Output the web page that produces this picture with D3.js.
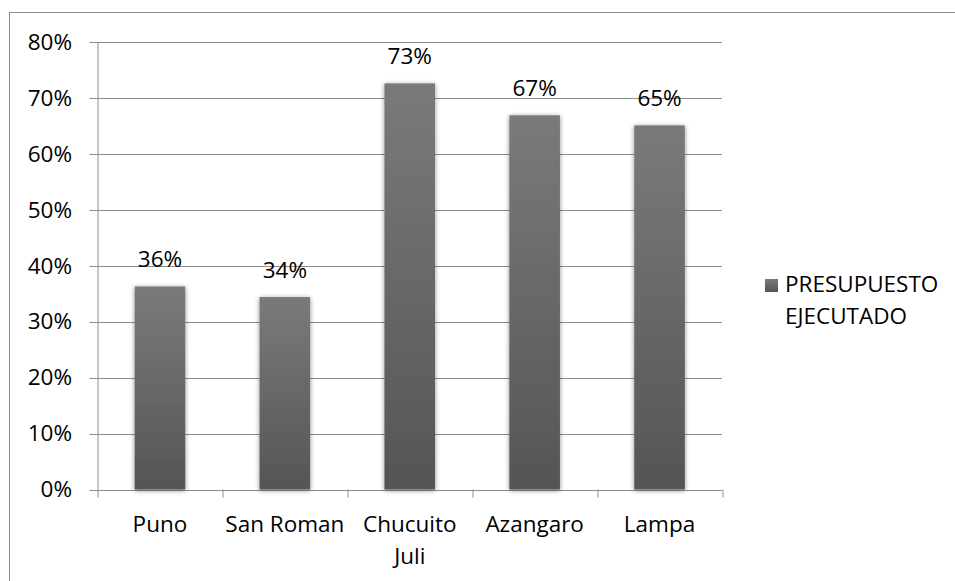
<!DOCTYPE html>
<html>
<head>
<meta charset="utf-8">
<script src="https://cdn.jsdelivr.net/npm/d3@7"></script>
<style>
  body { margin: 0; background: #fff; }
  text { font-family: "Open Sans", Lato, sans-serif; fill: #000; }
</style>
</head>
<body>
<div id="container"></div>
<script>
const categories = [['Puno'], ['San Roman'], ['Chucuito', 'Juli'], ['Azangaro'], ['Lampa']];
const values = [0.363, 0.344, 0.726, 0.669, 0.651];
const valueLabels = ['36%', '34%', '73%', '67%', '65%'];
const yTicks = [0, 0.1, 0.2, 0.3, 0.4, 0.5, 0.6, 0.7, 0.8];
const seriesName = ['PRESUPUESTO', 'EJECUTADO'];

const W = 955, H = 581;
const margin = { top: 42, left: 97.5, right: 233, bottom: 91.5 };
const width = W - margin.left - margin.right;
const height = H - margin.top - margin.bottom;
const fontSize = '22.5px';

const svg = d3.select('#container').append('svg')
  .attr('width', W)
  .attr('height', H);

const defs = svg.append('defs');
const grad = defs.append('linearGradient')
  .attr('id', 'barGrad')
  .attr('x1', 0).attr('y1', 0).attr('x2', 0).attr('y2', 1);
grad.append('stop').attr('offset', '0%').attr('stop-color', '#7a7a7a');
grad.append('stop').attr('offset', '100%').attr('stop-color', '#555555');

const shadow = defs.append('filter').attr('id', 'shadow')
  .attr('x', '-30%').attr('y', '-10%').attr('width', '160%').attr('height', '120%');
shadow.append('feGaussianBlur').attr('in', 'SourceAlpha').attr('stdDeviation', 2.5).attr('result', 'blur');
shadow.append('feOffset').attr('in', 'blur').attr('dx', 0).attr('dy', 1).attr('result', 'off');
shadow.append('feComponentTransfer').attr('in', 'off').attr('result', 'soft')
  .append('feFuncA').attr('type', 'linear').attr('slope', 0.45);
const merge = shadow.append('feMerge');
merge.append('feMergeNode').attr('in', 'soft');
merge.append('feMergeNode').attr('in', 'SourceGraphic');

// outer frame
svg.append('rect')
  .attr('x', 9.5).attr('y', 12.5)
  .attr('width', 960).attr('height', 600)
  .attr('fill', 'none')
  .attr('stroke', '#8c8c8c')
  .attr('stroke-width', 1);

const g = svg.append('g')
  .attr('transform', `translate(${margin.left}, ${margin.top})`);

const x = d3.scaleBand()
  .domain(d3.range(categories.length))
  .range([0, width])
  .paddingInner(0)
  .paddingOuter(0);

const y = d3.scaleLinear()
  .domain([0, 0.8])
  .range([height, 0]);

// gridlines + left ticks
g.append('g').selectAll('line')
  .data(yTicks).enter()
  .append('line')
  .attr('x1', -8)
  .attr('x2', width)
  .attr('y1', (d) => Math.round(y(d)) + 0.5)
  .attr('y2', (d) => Math.round(y(d)) + 0.5)
  .attr('stroke', '#8c8c8c')
  .attr('stroke-width', 1);

// y axis labels
g.append('g').selectAll('text')
  .data(yTicks).enter()
  .append('text')
  .attr('x', -25.5)
  .attr('y', (d) => y(d) + 7.8)
  .attr('text-anchor', 'end')
  .style('font-size', fontSize)
  .text((d) => d3.format('.0%')(d));

// y axis line
g.append('line')
  .attr('x1', 0.5).attr('x2', 0.5)
  .attr('y1', 0).attr('y2', height)
  .attr('stroke', '#8c8c8c');

// bottom ticks at band edges
const edges = d3.range(categories.length).map((i) => x(i)).concat([width]);
g.append('g').selectAll('line')
  .data(edges).enter()
  .append('line')
  .attr('x1', (d) => Math.round(d) + 0.5)
  .attr('x2', (d) => Math.round(d) + 0.5)
  .attr('y1', height)
  .attr('y2', height + 8)
  .attr('stroke', '#8c8c8c');

// bars
const barW = x.bandwidth() * 0.405;
g.append('g').selectAll('rect')
  .data(values).enter()
  .append('rect')
  .attr('x', (d, i) => x(i) + (x.bandwidth() - barW) / 2)
  .attr('y', (d) => y(d))
  .attr('width', barW)
  .attr('height', (d) => height - y(d))
  .attr('fill', 'url(#barGrad)')
  .attr('filter', 'url(#shadow)');

// value labels
g.append('g').selectAll('text')
  .data(values).enter()
  .append('text')
  .attr('x', (d, i) => x(i) + x.bandwidth() / 2)
  .attr('y', (d) => y(d) - 19)
  .attr('text-anchor', 'middle')
  .style('font-size', fontSize)
  .text((d, i) => valueLabels[i]);

// category labels
const cat = g.append('g').selectAll('text')
  .data(categories).enter()
  .append('text')
  .attr('x', (d, i) => x(i) + x.bandwidth() / 2)
  .attr('y', height + 42.5)
  .attr('text-anchor', 'middle')
  .style('font-size', fontSize);
cat.selectAll('tspan')
  .data((d) => d).enter()
  .append('tspan')
  .attr('x', function () { return d3.select(this.parentNode).attr('x'); })
  .attr('dy', (d, i) => i === 0 ? 0 : 32)
  .text((d) => d);

// legend
const legend = svg.append('g').attr('transform', 'translate(765, 279)');
legend.append('rect')
  .attr('width', 13).attr('height', 13)
  .attr('fill', 'url(#barGrad)');
legend.append('text')
  .attr('x', 20)
  .attr('y', 12.7)
  .style('font-size', fontSize)
  .selectAll('tspan')
  .data(seriesName).enter()
  .append('tspan')
  .attr('x', 20)
  .attr('dy', (d, i) => i === 0 ? 0 : 32)
  .text((d) => d);
</script>
</body>
</html>
